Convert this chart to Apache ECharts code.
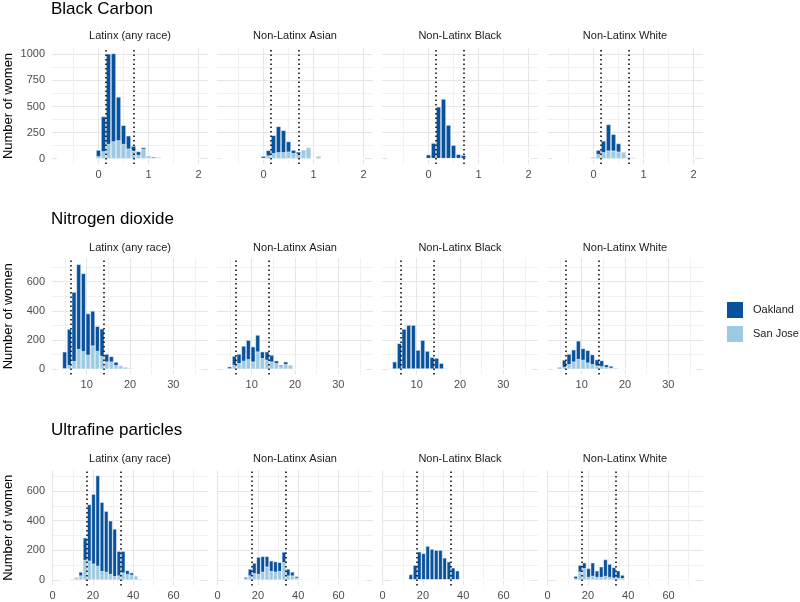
<!DOCTYPE html>
<html><head><meta charset="utf-8">
<script src="https://cdn.jsdelivr.net/npm/echarts@6/dist/echarts.min.js"></script>
<style>html,body{margin:0;padding:0;background:#fff}#c{width:800px;height:602px}</style>
</head><body><div id="c"></div>
<script>
const FONT = '"Liberation Sans", Arial, Helvetica, sans-serif';
const groups = ['Latinx (any race)', 'Non-Latinx Asian', 'Non-Latinx Black', 'Non-Latinx White'];
const cities = ['Oakland', 'San Jose'];
const pollutantTitles = ['Black Carbon', 'Nitrogen dioxide', 'Ultrafine particles'];
const yTitle = 'Number of women';

// ---- Black carbon (bin centres, counts per group: Latinx, Asian, Black, White)
const bcBins = [0.0, 0.1, 0.2, 0.3, 0.4, 0.5, 0.6, 0.7, 0.8, 0.9, 1.0, 1.1, 1.2];
const bcOakland = [
  [61, 335, 865, 843, 417, 180, 124, 45, 35, 15, 10, 10, 8],
  [20, 50, 172, 249, 211, 98, 31, 21, 0, 0, 0, 0, 0],
  [39, 150, 497, 572, 323, 130, 43, 34, 0, 0, 0, 0, 0],
  [4, 41, 110, 251, 158, 79, 7, 4, 0, 0, 0, 0, 0]
];
const bcSanJose = [
  [22, 70, 140, 165, 175, 140, 96, 77, 35, 93, 15, 8, 4],
  [5, 30, 52, 61, 61, 67, 52, 45, 85, 107, 5, 25, 5],
  [0, 0, 0, 0, 0, 0, 0, 0, 0, 0, 0, 0, 0],
  [14, 42, 61, 77, 77, 67, 55, 14, 10, 0, 0, 0, 0]
];
const bcCutoffs = [0.15, 0.70];
const bcBinRange = [-0.83, 2.03];
const bcXTicks = [0, 1, 2];
const bcYTicks = [0, 250, 500, 750, 1000];

// ---- Nitrogen dioxide
const no2Bins = [3.85, 4.93, 6.0, 7.08, 8.16, 9.24, 10.32, 11.4, 12.47, 13.55, 14.62, 15.7, 16.78, 17.86, 18.93, 20.01, 21.09];
const no2Oakland = [
  [0, 117, 248, 474, 581, 534, 284, 238, 170, 188, 53, 36, 22, 3, 0, 2, 0],
  [0, 15, 62, 64, 103, 132, 103, 114, 46, 57, 46, 18, 9, 17, 0, 0, 0],
  [5, 52, 178, 276, 303, 303, 132, 200, 125, 83, 77, 42, 5, 0, 0, 0, 0],
  [0, 10, 49, 71, 82, 125, 79, 85, 67, 41, 40, 18, 13, 2, 0, 0, 0]
];
const no2SanJose = [
  [0, 3, 28, 55, 138, 123, 98, 162, 125, 90, 52, 52, 28, 22, 15, 8, 0],
  [0, 3, 29, 41, 57, 68, 52, 121, 75, 64, 52, 41, 20, 35, 29, 5, 0],
  [0, 0, 0, 0, 0, 0, 0, 0, 0, 0, 0, 0, 0, 0, 0, 0, 0],
  [0, 4, 15, 34, 52, 70, 64, 45, 34, 25, 20, 14, 10, 8, 4, 0, 0]
];
const no2Cutoffs = [6.3, 14.0];
const no2BinRange = [3.6, 36.4];
const no2XTicks = [10, 20, 30];
const no2YTicks = [0, 200, 400, 600];

// ---- Ultrafine particles
const ufpBins = [9.8, 11.9, 14.0, 16.1, 18.2, 20.3, 22.4, 24.5, 26.6, 28.7, 30.8, 32.9, 35.0, 37.1, 39.2, 41.3, 43.4];
const ufpOakland = [
  [0, 6, 25, 150, 380, 470, 610, 465, 410, 360, 320, 165, 145, 25, 15, 3, 8],
  [0, 0, 10, 45, 70, 115, 105, 70, 70, 70, 60, 70, 45, 25, 10, 0, 0],
  [0, 0, 38, 101, 191, 180, 229, 209, 202, 202, 150, 124, 83, 63, 0, 0, 0],
  [0, 0, 17, 45, 38, 59, 90, 43, 70, 112, 88, 71, 48, 22, 0, 0, 0]
];
const ufpSanJose = [
  [8, 12, 30, 135, 130, 110, 95, 60, 55, 40, 25, 30, 50, 40, 35, 25, 0],
  [0, 0, 10, 30, 45, 40, 55, 90, 60, 55, 60, 120, 30, 30, 15, 5, 0],
  [0, 0, 0, 0, 0, 0, 0, 0, 0, 0, 0, 0, 0, 0, 3, 3, 0],
  [0, 0, 10, 56, 79, 20, 27, 20, 20, 27, 20, 15, 15, 12, 0, 5, 0]
];
const ufpCutoffs = [16.9, 33.6];
const ufpBinRange = [3.6, 73.5];
const ufpXTicks = [0, 20, 40, 60];
const ufpYTicks = [0, 200, 400, 600];

// ---- layout (positions / styles only)
const colLeft = [52, 217, 382, 547];
const colWidth = 156;
const rowTop = [48, 258, 470];
const rowHeight = [116, 116.5, 115.5];
const xRange = [[-0.93, 2.19], [2.0, 38.0], [-0.3, 77.1]];
const yRange = [[-51, 1060], [-36, 762], [-37, 742]];
const titleY = [9.2, 219, 430];
const stripY = [36, 248.3, 459];
const colOak = '#08519c', colSJ = '#9ecae1';

const rows = [
  {bins: bcBins, oak: bcOakland, sj: bcSanJose, cut: bcCutoffs, span: bcBinRange, xt: bcXTicks, yt: bcYTicks},
  {bins: no2Bins, oak: no2Oakland, sj: no2SanJose, cut: no2Cutoffs, span: no2BinRange, xt: no2XTicks, yt: no2YTicks},
  {bins: ufpBins, oak: ufpOakland, sj: ufpSanJose, cut: ufpCutoffs, span: ufpBinRange, xt: ufpXTicks, yt: ufpYTicks}
];

function tickFmt(ticks) {
  return function (v) {
    return ticks.some(t => Math.abs(t - v) < 1e-6) ? String(v) : '';
  };
}

const option = {
  animation: false,
  backgroundColor: '#fff',
  textStyle: {fontFamily: FONT},
  grid: [], xAxis: [], yAxis: [], series: [], graphic: [],
  legend: {
    data: cities, orient: 'vertical', left: 720, top: 295,
    itemWidth: 18, itemHeight: 18, itemGap: 4, icon: 'rect',
    selectedMode: false,
    textStyle: {fontSize: 11, color: '#1a1a1a', fontFamily: FONT, padding: [0, 0, 0, 4]}
  }
};

rows.forEach((row, r) => {
  option.graphic.push({type: 'text', x: 51, y: titleY[r], silent: true,
    style: {text: pollutantTitles[r], fontSize: 17, fontFamily: FONT, fill: '#000', align: 'left', verticalAlign: 'middle'}});
  const xInt = row.xt[1] - row.xt[0];
  const yInt = row.yt[1] - row.yt[0];
  // bar width in pixels = one bin on this row's x scale
  const binPx = (row.bins[2] - row.bins[1]) * colWidth / (xRange[r][1] - xRange[r][0]);
  groups.forEach((gname, g) => {
    const idx = r * 4 + g;
    option.graphic.push({type: 'text', x: colLeft[g] + colWidth / 2, y: stripY[r], silent: true,
      style: {text: gname, fontSize: 11, fontFamily: FONT, fill: '#1a1a1a', align: 'center', verticalAlign: 'middle'}});
    option.grid.push({left: colLeft[g], top: rowTop[r], width: colWidth, height: rowHeight[r]});
    option.xAxis.push({
      type: 'value', gridIndex: idx, min: xRange[r][0], max: xRange[r][1],
      minInterval: xInt, maxInterval: xInt,
      axisLine: {show: false}, axisTick: {show: false},
      axisLabel: {formatter: tickFmt(row.xt), color: '#4d4d4d', fontSize: 11, margin: 5, fontFamily: FONT},
      splitLine: {show: true, showMinLine: false, showMaxLine: false, lineStyle: {color: '#e6e6e6', width: 1.1}},
      minorTick: {show: false, splitNumber: 2},
      minorSplitLine: {show: true, lineStyle: {color: '#f1f1f1', width: 1}}
    });
    option.yAxis.push({
      type: 'value', gridIndex: idx, min: yRange[r][0], max: yRange[r][1],
      minInterval: yInt, maxInterval: yInt,
      name: g === 0 ? yTitle : '', nameLocation: 'middle', nameRotate: 90, nameGap: 37,
      nameTextStyle: {fontSize: 13, color: '#000', fontFamily: FONT},
      axisLine: {show: false}, axisTick: {show: false},
      axisLabel: {show: g === 0, formatter: tickFmt(row.yt), color: '#4d4d4d', fontSize: 11, margin: 7, fontFamily: FONT},
      splitLine: {show: true, showMinLine: false, showMaxLine: false, lineStyle: {color: '#e6e6e6', width: 1.1}},
      minorTick: {show: false, splitNumber: 2},
      minorSplitLine: {show: true, lineStyle: {color: '#f1f1f1', width: 1}}
    });
    // white outline of empty bins hides the zero grid line across the binned range
    option.series.push({
      type: 'line', name: 'bins', xAxisIndex: idx, yAxisIndex: idx, z: 1, silent: true,
      symbol: 'none', lineStyle: {color: '#fff', width: 1.6},
      data: [[row.span[0], 0], [row.span[1], 0]]
    });
    // Oakland stacked on top of San Jose: full stack height drawn first
    option.series.push({
      type: 'bar', name: 'Oakland', xAxisIndex: idx, yAxisIndex: idx, silent: true,
      barWidth: binPx, barGap: '-100%',
      itemStyle: {color: colOak, borderColor: '#fff', borderWidth: 0.55},
      data: row.bins.map((b, i) => [b, row.oak[g][i] + row.sj[g][i]])
    });
    option.series.push({
      type: 'bar', name: 'San Jose', xAxisIndex: idx, yAxisIndex: idx, silent: true,
      barWidth: binPx, barGap: '-100%',
      itemStyle: {color: colSJ, borderColor: '#fff', borderWidth: 0.55},
      data: row.bins.map((b, i) => [b, row.sj[g][i]]),
      markLine: {
        silent: true, symbol: 'none', label: {show: false},
        lineStyle: {color: '#000', type: [1.5, 3], width: 1.5},
        data: row.cut.map(v => ({xAxis: v}))
      }
    });
  });
});

const chart = echarts.init(document.getElementById('c'), null, {renderer: 'canvas'});
chart.setOption(option);
</script>
</body></html>
